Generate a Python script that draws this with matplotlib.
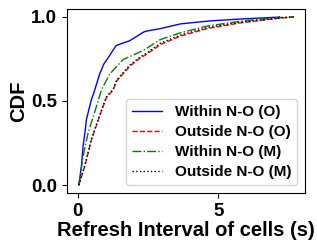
import matplotlib
matplotlib.use("Agg")
import matplotlib.pyplot as plt

plt.rcParams['font.family'] = ['Liberation Sans', 'DejaVu Sans']
plt.rcParams['font.weight'] = 'bold'

labels = ["Within N-O (O)", "Outside N-O (O)", "Within N-O (M)", "Outside N-O (M)"]

within_o_x = [0.04, 0.13, 0.19, 0.27, 0.31, 0.49, 0.57, 0.78, 0.93, 1.08, 1.34, 1.38, 1.85, 2.35, 2.44, 2.94, 3.65, 4.72, 5.9, 7.14, 7.17]
within_o_y = [0.0, 0.11, 0.23, 0.33, 0.39, 0.51, 0.546, 0.66, 0.72, 0.756, 0.823, 0.83, 0.858, 0.91, 0.915, 0.93, 0.958, 0.976, 0.988, 0.998, 1.0]

outside_o_x = [0.04, 0.25, 0.49, 0.78, 1.02, 1.26, 1.38, 1.85, 2.23, 2.44, 2.94, 3.65, 4.6, 5.79, 6.98, 7.68]
outside_o_y = [0.0, 0.11, 0.27, 0.41, 0.52, 0.565, 0.617, 0.706, 0.756, 0.776, 0.835, 0.885, 0.93, 0.964, 0.988, 1.0]

within_m_x = [0.04, 0.07, 0.19, 0.37, 0.67, 0.84, 1.14, 1.61, 2.33, 2.94, 3.65, 4.6, 5.79, 6.98, 7.68]
within_m_y = [0.0, 0.03, 0.17, 0.31, 0.47, 0.565, 0.66, 0.746, 0.80, 0.865, 0.905, 0.945, 0.974, 0.994, 1.0]

outside_m_x = [0.04, 0.25, 0.49, 0.78, 1.02, 1.26, 1.38, 1.85, 2.23, 2.44, 2.94, 3.65, 4.6, 5.79, 6.98, 7.68]
outside_m_y = [0.0, 0.115, 0.275, 0.415, 0.525, 0.57, 0.623, 0.713, 0.763, 0.783, 0.843, 0.892, 0.936, 0.968, 0.99, 1.0]

fig = plt.figure(figsize=(3.17, 2.46), dpi=100)
ax = fig.add_axes([0.211, 0.215, 0.751, 0.748])

ax.plot(within_o_x, within_o_y, color='blue', linestyle='-', linewidth=1.0, label=labels[0])
ax.plot(outside_o_x, outside_o_y, color='red', linestyle='--', linewidth=1.0, label=labels[1])
ax.plot(within_m_x, within_m_y, color='green', linestyle='-.', linewidth=1.0, label=labels[2])
ax.plot(outside_m_x, outside_m_y, color='black', linestyle=':', linewidth=1.0, label=labels[3])

ax.set_xlim(-0.385, 8.08)
ax.set_ylim(-0.048, 1.046)
ax.set_xticks([0, 5])
ax.set_yticks([0.0, 0.5, 1.0])
ax.tick_params(labelsize=13.5)
for t in ax.get_xticklabels() + ax.get_yticklabels():
    t.set_fontweight('bold')
ax.set_xlabel("Refresh Interval of cells (s)", fontsize=14.5, fontweight='bold', labelpad=1)
ax.set_ylabel("CDF", fontsize=14.5, fontweight='bold', labelpad=2)
leg = ax.legend(loc='lower right', prop={'size': 11, 'weight': 'bold'}, labelspacing=0.4)

fig.savefig("out.png", dpi=100)
